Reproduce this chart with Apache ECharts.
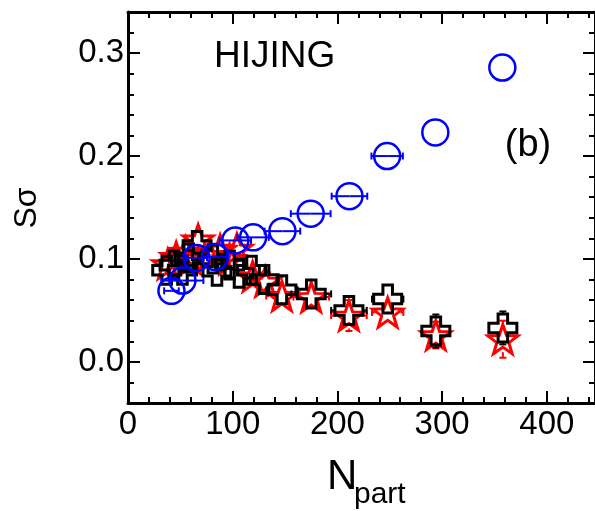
<!DOCTYPE html>
<html>
<head>
<meta charset="utf-8">
<script src="https://cdn.jsdelivr.net/npm/echarts@6/dist/echarts.min.js"></script>
<style>
  html, body { margin: 0; padding: 0; background: #fff; }
  #chart { width: 595px; height: 511px; }
</style>
</head>
<body>
<div id="chart"></div>
<script>
// HIJING: S_sigma versus number of participants, three sets of results

// Open blue circles
const npartCircle = [41.5, 52, 65.5, 83, 102.5, 119.5, 147.5, 174.5, 211.5, 247.5, 293.5, 357.5];
const sCircle     = [0.069, 0.079, 0.101, 0.102, 0.118, 0.121, 0.127, 0.144, 0.161, 0.200, 0.223, 0.286];
const circleErrN  = [7, 20, 10, 12, 15, 15, 17, 19, 17, 15, 0, 0];
const circleErrS  = [0, 0, 0, 0, 0, 0, 0, 0, 0, 0, 0, 0];

// Open black crosses
const npartCross = [37, 44, 52, 58, 66, 81, 85, 97, 106, 118, 130, 147, 175, 211, 248, 294, 358];
const sCross     = [0.089, 0.094, 0.089, 0.101, 0.113, 0.100, 0.088, 0.094, 0.086, 0.089, 0.080, 0.070, 0.066, 0.050, 0.061, 0.030, 0.033];
const crossErrN  = [4, 5, 5, 6, 7, 8, 9, 10, 11, 12, 13, 15, 19, 17, 15, 12, 10];
const crossErrS  = [0.006, 0.006, 0.006, 0.006, 0.007, 0.007, 0.007, 0.007, 0.008, 0.008, 0.009, 0.010, 0.011, 0.012, 0.013, 0.016, 0.016];

// Red stars
const npartStar = [38, 46, 55, 60, 67, 78, 88, 97, 104, 119, 131, 147, 175, 211, 248, 294, 358];
const sStar     = [0.095, 0.102, 0.107, 0.100, 0.119, 0.104, 0.109, 0.100, 0.110, 0.083, 0.078, 0.064, 0.063, 0.045, 0.048, 0.026, 0.022];
const starErrN  = [4, 5, 5, 6, 7, 8, 9, 10, 11, 12, 13, 15, 17, 17, 15, 12, 10];
const starErrS  = [0.006, 0.006, 0.006, 0.007, 0.007, 0.007, 0.008, 0.008, 0.008, 0.009, 0.010, 0.011, 0.012, 0.015, 0.012, 0.013, 0.018];

// Axis ranges and tick labels
const xRange = [0, 446];
const yRange = [-0.04, 0.34];
const xTickLabels = ['0', '100', '200', '300', '400'];
const yTickLabels = ['0.0', '0.1', '0.2', '0.3'];

const FONT = '"Liberation Sans", Arial, Helvetica, sans-serif';
const BLUE = '#0000ff';
const RED = '#ff0000';
const BLACK = '#000000';

const CROSS_PATH = 'path://M33,0 H67 V33 H100 V67 H67 V100 H33 V67 H0 V33 H33 Z';
const STAR_PATH = 'path://M50,0 L61.76,33.82 L97.55,34.55 L69.02,56.18 L79.39,90.45 L50,70 L20.61,90.45 L30.98,56.18 L2.45,34.55 L38.24,33.82 Z';

function rows(xs, ys, ex, ey) {
  return xs.map((x, i) => [x, ys[i], ex[i], ey[i]]);
}

// Error bars with end caps; `gap` keeps the bar outside the marker body.
function errorBars(gap, color) {
  return function (params, api) {
    const x = api.value(0), y = api.value(1), ex = api.value(2), ey = api.value(3);
    const c = api.coord([x, y]);
    const style = { stroke: color, lineWidth: 2 };
    const cap = 3.5;
    const kids = [];
    const seg = (x1, y1, x2, y2) => kids.push({ type: 'line', shape: { x1, y1, x2, y2 }, style });
    if (ex > 0) {
      const l = api.coord([x - ex, y])[0];
      const r = api.coord([x + ex, y])[0];
      if (c[0] - l > gap) {
        seg(l, c[1], c[0] - gap, c[1]);
        seg(l, c[1] - cap, l, c[1] + cap);
        seg(c[0] + gap, c[1], r, c[1]);
        seg(r, c[1] - cap, r, c[1] + cap);
      }
    }
    if (ey > 0) {
      const t = api.coord([x, y + ey])[1];
      const b = api.coord([x, y - ey])[1];
      if (c[1] - t > gap) {
        seg(c[0], t, c[0], c[1] - gap);
        seg(c[0] - cap, t, c[0] + cap, t);
        seg(c[0], c[1] + gap, c[0], b);
        seg(c[0] - cap, b, c[0] + cap, b);
      }
    }
    return { type: 'group', children: kids };
  };
}

const isMultiple = (v, step) => Math.abs(v / step - Math.round(v / step)) < 1e-6;

function xAxisDef(pos, showLabels) {
  return {
    type: 'value', position: pos, min: xRange[0], max: xRange[1], interval: 100,
    axisLine: { show: true, onZero: false, lineStyle: { color: BLACK, width: 3 } },
    axisTick: { show: true, inside: true, length: 12, lineStyle: { color: BLACK, width: 2 } },
    minorTick: { show: true, splitNumber: 5, length: 6, lineStyle: { color: BLACK, width: 2 } },
    splitLine: { show: false },
    axisLabel: {
      show: showLabels, color: BLACK, fontSize: 33, fontFamily: FONT, margin: 5,
      showMaxLabel: false,
      formatter: v => isMultiple(v, 100) ? xTickLabels[Math.round(v / 100)] : ''
    }
  };
}

function yAxisDef(pos, showLabels) {
  return {
    type: 'value', position: pos, min: yRange[0], max: yRange[1], splitNumber: 4,
    axisLine: { show: true, onZero: false, lineStyle: { color: BLACK, width: 3 } },
    axisTick: { show: true, inside: true, length: 12, lineStyle: { color: BLACK, width: 2 } },
    minorTick: { show: true, splitNumber: 5, length: 6, lineStyle: { color: BLACK, width: 2 } },
    splitLine: { show: false },
    axisLabel: {
      show: showLabels, color: BLACK, fontSize: 33, fontFamily: FONT, margin: 4,
      showMinLabel: false, showMaxLabel: false,
      formatter: v => (isMultiple(v, 0.1) && v > -0.001 && v < 0.31) ? yTickLabels[Math.round(v * 10)] : ''
    }
  };
}

const chart = echarts.init(document.getElementById('chart'), null, { renderer: 'canvas' });

chart.setOption({
  animation: false,
  backgroundColor: '#ffffff',
  textStyle: { fontFamily: FONT },
  grid: { left: 128, top: 12, width: 470, height: 391, containLabel: false },
  xAxis: [xAxisDef('bottom', true), xAxisDef('top', false)],
  yAxis: [yAxisDef('left', true), yAxisDef('right', false)],
  series: [
    {
      type: 'custom', name: 'star errors', renderItem: errorBars(13, RED),
      data: rows(npartStar, sStar, starErrN, starErrS), encode: { x: 0, y: 1 }, z: 2, clip: false
    },
    {
      type: 'scatter', name: 'stars', data: rows(npartStar, sStar, starErrN, starErrS),
      symbol: STAR_PATH, symbolSize: [30, 29], z: 3,
      itemStyle: { color: 'rgba(0,0,0,0)', borderColor: RED, borderWidth: 3, opacity: 1 }
    },
    {
      type: 'custom', name: 'cross errors', renderItem: errorBars(14, BLACK),
      data: rows(npartCross, sCross, crossErrN, crossErrS), encode: { x: 0, y: 1 }, z: 4, clip: false
    },
    {
      type: 'scatter', name: 'crosses', data: rows(npartCross, sCross, crossErrN, crossErrS),
      symbol: CROSS_PATH, symbolSize: 28, z: 5,
      itemStyle: { color: 'rgba(0,0,0,0)', borderColor: BLACK, borderWidth: 3, opacity: 1 }
    },
    {
      type: 'custom', name: 'circle errors', renderItem: errorBars(0, BLUE),
      data: rows(npartCircle, sCircle, circleErrN, circleErrS), encode: { x: 0, y: 1 }, z: 6, clip: false
    },
    {
      type: 'scatter', name: 'circles', data: rows(npartCircle, sCircle, circleErrN, circleErrS),
      symbol: 'circle', symbolSize: 26, z: 7,
      itemStyle: { color: 'rgba(0,0,0,0)', borderColor: BLUE, borderWidth: 2.5, opacity: 1 }
    }
  ],
  graphic: [
    { type: 'text', x: 214, y: 57, style: { text: 'HIJING', font: '37px ' + FONT, fill: BLACK, textAlign: 'left', textVerticalAlign: 'middle' } },
    { type: 'text', x: 528, y: 146, style: { text: '(b)', font: '38px ' + FONT, fill: BLACK, textAlign: 'center', textVerticalAlign: 'middle' } },
    { type: 'text', x: 27, y: 208, rotation: Math.PI / 2, style: { text: 'Sσ', font: '32px ' + FONT, fill: BLACK, textAlign: 'center', textVerticalAlign: 'middle' } },
    { type: 'text', x: 327, y: 477, style: { text: 'N', font: '42px ' + FONT, fill: BLACK, textAlign: 'left', textVerticalAlign: 'middle' } },
    { type: 'text', x: 354, y: 495, style: { text: 'part', font: '30px ' + FONT, fill: BLACK, textAlign: 'left', textVerticalAlign: 'middle' } }
  ]
});
</script>
</body>
</html>
